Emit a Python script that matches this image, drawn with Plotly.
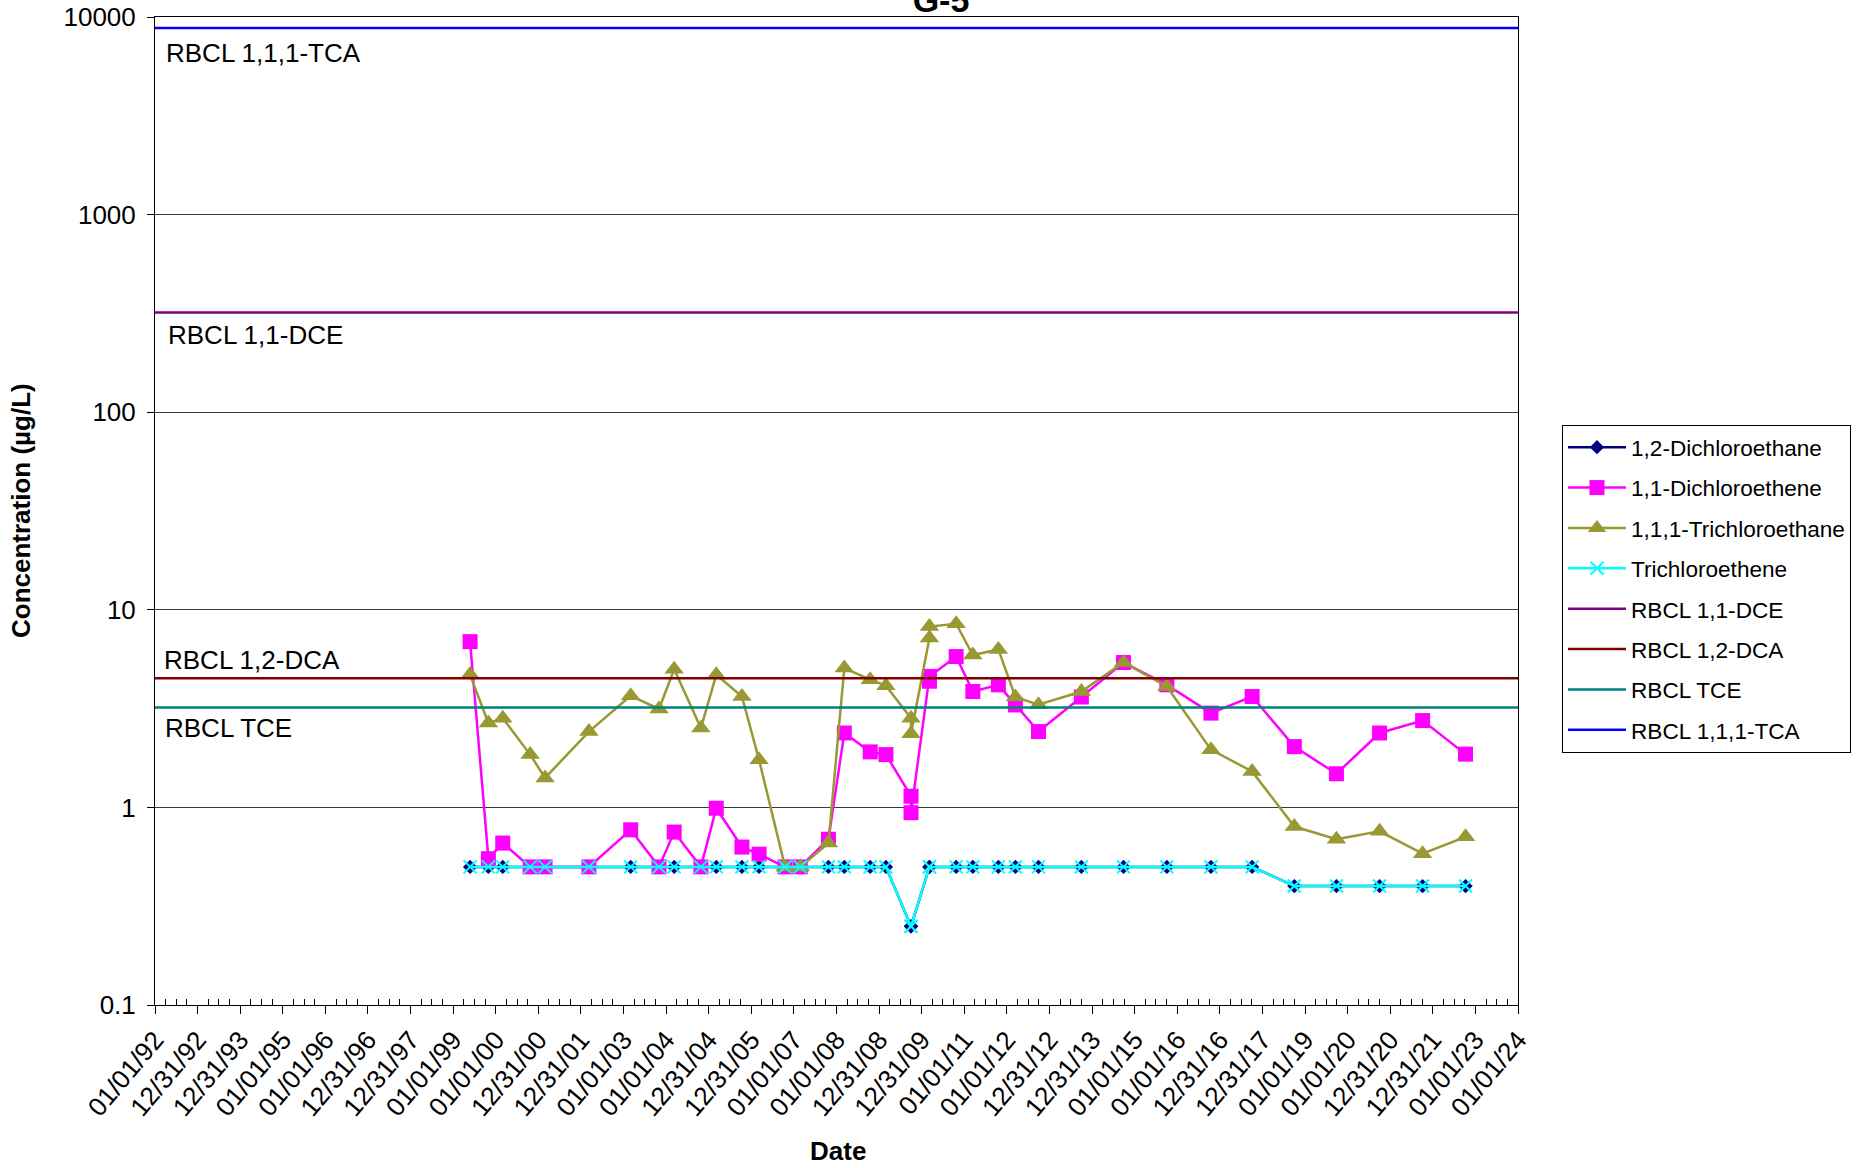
import plotly.graph_objects as go
from datetime import datetime

# ---------------- data ----------------
sample_dates = ["1999-05-26", "1999-10-30", "2000-03-01", "2000-10-22", "2001-02-27",
                "2002-03-10", "2003-03-03", "2003-11-01", "2004-03-10", "2004-10-25",
                "2005-03-06", "2005-10-12", "2006-03-08", "2006-10-17", "2007-02-24",
                "2007-10-24", "2008-03-08", "2008-10-16", "2009-02-28", "2009-10-01",
                "2009-10-01", "2010-03-08", "2010-03-08", "2010-10-23", "2011-03-15",
                "2011-10-20", "2012-03-14", "2012-09-28", "2013-10-01", "2014-09-27",
                "2015-10-04", "2016-10-16", "2017-10-04", "2018-10-01", "2019-09-27",
                "2020-10-01", "2021-10-05", "2022-10-08"]

dca_12 = [0.5, 0.5, 0.5, 0.5, 0.5, 0.5, 0.5, 0.5, 0.5, 0.5,
          0.5, 0.5, 0.5, 0.5, 0.5, 0.5, 0.5, 0.5, 0.5, 0.25,
          0.25, 0.5, 0.5, 0.5, 0.5, 0.5, 0.5, 0.5, 0.5, 0.5,
          0.5, 0.5, 0.5, 0.4, 0.4, 0.4, 0.4, 0.4]

dce_11 = [6.9, 0.55, 0.66, 0.5, 0.5, 0.5, 0.77, 0.5, 0.75, 0.5,
          0.99, 0.63, 0.58, 0.5, 0.5, 0.69, 2.38, 1.91, 1.85, 1.14,
          0.94, 4.35, 4.6, 5.8, 3.86, 4.17, 3.3, 2.42, 3.62, 5.41,
          4.17, 3.0, 3.64, 2.03, 1.48, 2.38, 2.75, 1.86]

tca_111 = [4.7, 2.67, 2.83, 1.85, 1.41, 2.42, 3.67, 3.15, 5.0, 2.52,
           4.69, 3.64, 1.74, 0.5, 0.5, 0.66, 5.07, 4.43, 4.13, 2.83,
           2.36, 7.19, 8.23, 8.5, 5.9, 6.3, 3.62, 3.31, 3.86, 5.41,
           4.09, 1.96, 1.52, 0.80, 0.69, 0.757, 0.583, 0.71]

tce = [0.5, 0.5, 0.5, 0.5, 0.5, 0.5, 0.5, 0.5, 0.5, 0.5,
       0.5, 0.5, 0.5, 0.5, 0.5, 0.5, 0.5, 0.5, 0.5, 0.25,
       0.25, 0.5, 0.5, 0.5, 0.5, 0.5, 0.5, 0.5, 0.5, 0.5,
       0.5, 0.5, 0.5, 0.4, 0.4, 0.4, 0.4, 0.4]

rbcl_dce = 320
rbcl_dca = 4.5
rbcl_tce = 3.2
rbcl_tca = 8800

tick_labels = ["01/01/92", "12/31/92", "12/31/93", "01/01/95", "01/01/96", "12/31/96",
               "12/31/97", "01/01/99", "01/01/00", "12/31/00", "12/31/01", "01/01/03",
               "01/01/04", "12/31/04", "12/31/05", "01/01/07", "01/01/08", "12/31/08",
               "12/31/09", "01/01/11", "01/01/12", "12/31/12", "12/31/13", "01/01/15",
               "01/01/16", "12/31/16", "12/31/17", "01/01/19", "01/01/20", "12/31/20",
               "12/31/21", "01/01/23", "01/01/24"]
y_ticks = [0.1, 1, 10, 100, 1000, 10000]
y_tick_labels = ["0.1", "1", "10", "100", "1000", "10000"]

# --------------- figure ---------------
FONT = "Liberation Sans, Arial, sans-serif"
tick_dates = [datetime.strptime(t, "%m/%d/%y") for t in tick_labels]
minor_vals = []
for a, b in zip(tick_dates[:-1], tick_dates[1:]):
    step = (b - a) / 4
    for k in range(1, 4):
        minor_vals.append(a + step * k)
x_span = [tick_dates[0], tick_dates[-1]]

fig = go.Figure()

fig.add_trace(go.Scatter(x=sample_dates, y=dca_12, name="1,2-Dichloroethane", mode="lines+markers",
                         line=dict(color="#000080", width=2.5),
                         marker=dict(symbol="diamond", size=11, color="#000080"),
                         legendgroup="a"))
fig.add_trace(go.Scatter(x=sample_dates, y=dce_11, name="1,1-Dichloroethene", mode="lines+markers",
                         line=dict(color="#FF00FF", width=2.5),
                         marker=dict(symbol="square", size=15, color="#FF00FF"),
                         legendgroup="b"))
fig.add_trace(go.Scatter(x=sample_dates, y=tca_111, name="1,1,1-Trichloroethane", mode="lines+markers",
                         line=dict(color="#999933", width=2.5),
                         marker=dict(symbol="triangle-up", size=17, color="#999933"),
                         legendgroup="c"))
fig.add_trace(go.Scatter(x=sample_dates, y=tce, name="Trichloroethene", mode="lines+markers",
                         line=dict(color="#00FFFF", width=2.5),
                         marker=dict(symbol="x-thin", size=13, color="#00FFFF",
                                     line=dict(color="#00FFFF", width=2)),
                         legendgroup="d"))

for nm, val, col, g in [("RBCL 1,1-DCE", rbcl_dce, "#800080", "e"),
                        ("RBCL 1,2-DCA", rbcl_dca, "#800000", "f"),
                        ("RBCL TCE", rbcl_tce, "#008080", "g"),
                        ("RBCL 1,1,1-TCA", rbcl_tca, "#0000FF", "h")]:
    fig.add_trace(go.Scatter(x=x_span, y=[val, val], name=nm, mode="lines",
                             line=dict(color=col, width=2.5), legendgroup=g))

W, H = 1865, 1168
L, R, T, B = 155, 1518, 17, 1005

annots = []
for txt, px_left, py_center in [("RBCL 1,1,1-TCA", 164, 53),
                                ("RBCL 1,1-DCE", 166, 335),
                                ("RBCL 1,2-DCA", 162, 660),
                                ("RBCL TCE", 163, 728)]:
    annots.append(dict(text=txt, xref="paper", yref="paper",
                       x=(px_left - L) / (R - L), y=(B - py_center) / (B - T),
                       xanchor="left", yanchor="middle", showarrow=False,
                       font=dict(family=FONT, size=26, color="black")))

annots.append(dict(text="<b>Concentration (µg/L)</b>", xref="paper", yref="paper",
                   x=(21 - L) / (R - L), y=0.5, xanchor="center", yanchor="middle",
                   textangle=-90, showarrow=False,
                   font=dict(family=FONT, size=26, color="black")))
annots.append(dict(text="<b>Date</b>", xref="paper", yref="paper",
                   x=(838 - L) / (R - L), y=(B - 1151) / (B - T), xanchor="center",
                   yanchor="middle", showarrow=False,
                   font=dict(family=FONT, size=26, color="black")))

fig.update_layout(
    width=W, height=H,
    margin=dict(l=L, r=W - R, t=T, b=H - B, pad=0, autoexpand=False),
    paper_bgcolor="white", plot_bgcolor="white",
    font=dict(family=FONT, size=26, color="black"),
    title=dict(text="<b>G-5</b>", x=941 / W, xanchor="center", xref="container",
               y=1, yanchor="middle", yref="container", automargin=False,
               font=dict(family=FONT, size=34, color="black")),
    showlegend=True,
    legend=dict(xref="container", yref="container", x=1562 / W, y=1 - 425 / H,
                xanchor="left", yanchor="top", bgcolor="white",
                bordercolor="black", borderwidth=1,
                font=dict(family=FONT, size=22.6, color="black"),
                itemwidth=58, traceorder="grouped", tracegroupgap=8),
    annotations=annots,
)

fig.update_xaxes(type="date", range=x_span, tickmode="array", tickvals=tick_dates,
                 ticktext=tick_labels, tickangle=-50, ticks="outside", ticklen=8,
                 tickcolor="black", tickwidth=1, showgrid=False, showline=True,
                 linecolor="black", linewidth=1, mirror=True, zeroline=False,
                 automargin=False,
                 tickfont=dict(family=FONT, size=26, color="black"),
                 minor=dict(tickvals=minor_vals, ticks="inside", ticklen=6,
                            tickcolor="black", tickwidth=1, showgrid=False))
fig.update_yaxes(type="log", range=[-1, 4], tickmode="array", tickvals=y_ticks,
                 ticktext=y_tick_labels, ticks="outside", ticklen=7, tickcolor="black",
                 showgrid=True, gridcolor="#3a3a3a", gridwidth=1, showline=True,
                 linecolor="black", linewidth=1, mirror=True, zeroline=False,
                 automargin=False, ticklabelstandoff=6,
                 tickfont=dict(family=FONT, size=26, color="black"))

fig.write_html("out.html", config={"displayModeBar": False},
               post_script="document.body.style.margin='0';document.body.style.overflow='hidden';")
